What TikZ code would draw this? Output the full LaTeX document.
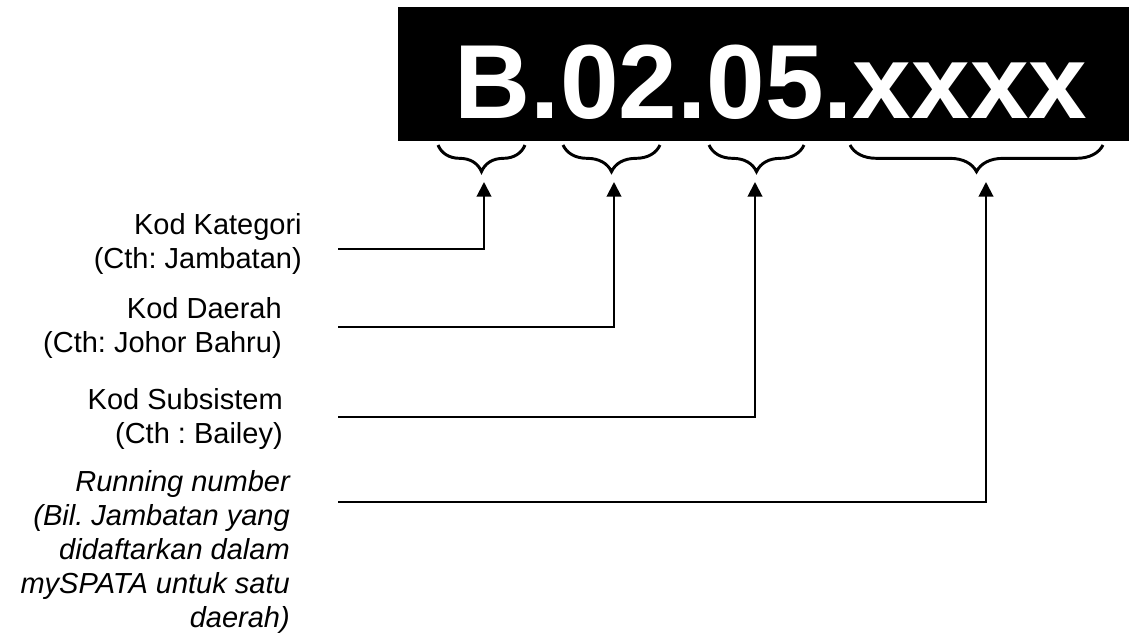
\documentclass[tikz,border=0pt]{standalone}
\usepackage{fontspec}
\setmainfont{Liberation Sans}
\frenchspacing
\usetikzlibrary{arrows.meta, decorations.pathreplacing, positioning}
\newcommand{\descsize}{\fontsize{21.75}{25.5}\selectfont}
\tikzset{
  codebar/.style  = {fill=black, draw=none},
  codetext/.style = {text=white, inner sep=0pt, anchor=base,
                     font=\fontsize{79}{79}\selectfont\bfseries},
  desc/.style     = {align=right, anchor=base east, inner sep=0pt, font=\descsize},
  brc/.style      = {decorate, decoration={brace, amplitude=20pt}, line width=2.2pt},
  arrow/.style    = {-{Triangle[length=11pt, width=11pt]}, line width=1.5pt},
}

\begin{document}
\begin{tikzpicture}[x=0.75pt, y=-0.75pt]
  \useasboundingbox (0,0) rectangle (1129,633);

  % code strip
  \fill[codebar] (398,7) rectangle (1129,141);
  \node[codetext] (code) at (771,118) {B.02.05.xxxx};

  % braces under each part of the code
  \draw[brc] (525,145) -- (438,145);
  \draw[brc] (660,145) -- (563,145);
  \draw[brc] (804,145) -- (709,145);
  \draw[brc] (1103,145) -- (850,145);

  % descriptions (anchored on the last baseline)
  \node[desc] (kategori) at (302,268) {Kod Kategori\\(Cth: Jambatan)};
  \node[desc] (daerah) at (282,352) {Kod Daerah\\(Cth: Johor Bahru)};
  \node[desc] (subsistem) at (283,443) {Kod Subsistem\\(Cth : Bailey)};
  \node[desc, font=\descsize\itshape] (nombor) at (290,627)
    {Running number\\(Bil. Jambatan yang\\didaftarkan dalam\\mySPATA untuk satu\\daerah)};

  % connector ends
  \coordinate (s1) at (338,249);
  \coordinate (s2) at (338,327);
  \coordinate (s3) at (338,417);
  \coordinate (s4) at (338,502);
  \coordinate (t1) at (484,182);
  \coordinate (t2) at (614,182);
  \coordinate (t3) at (755,182);
  \coordinate (t4) at (986,182);

  \draw[arrow] (s1) -| (t1);
  \draw[arrow] (s2) -| (t2);
  \draw[arrow] (s3) -| (t3);
  \draw[arrow] (s4) -| (t4);
\end{tikzpicture}
\end{document}
